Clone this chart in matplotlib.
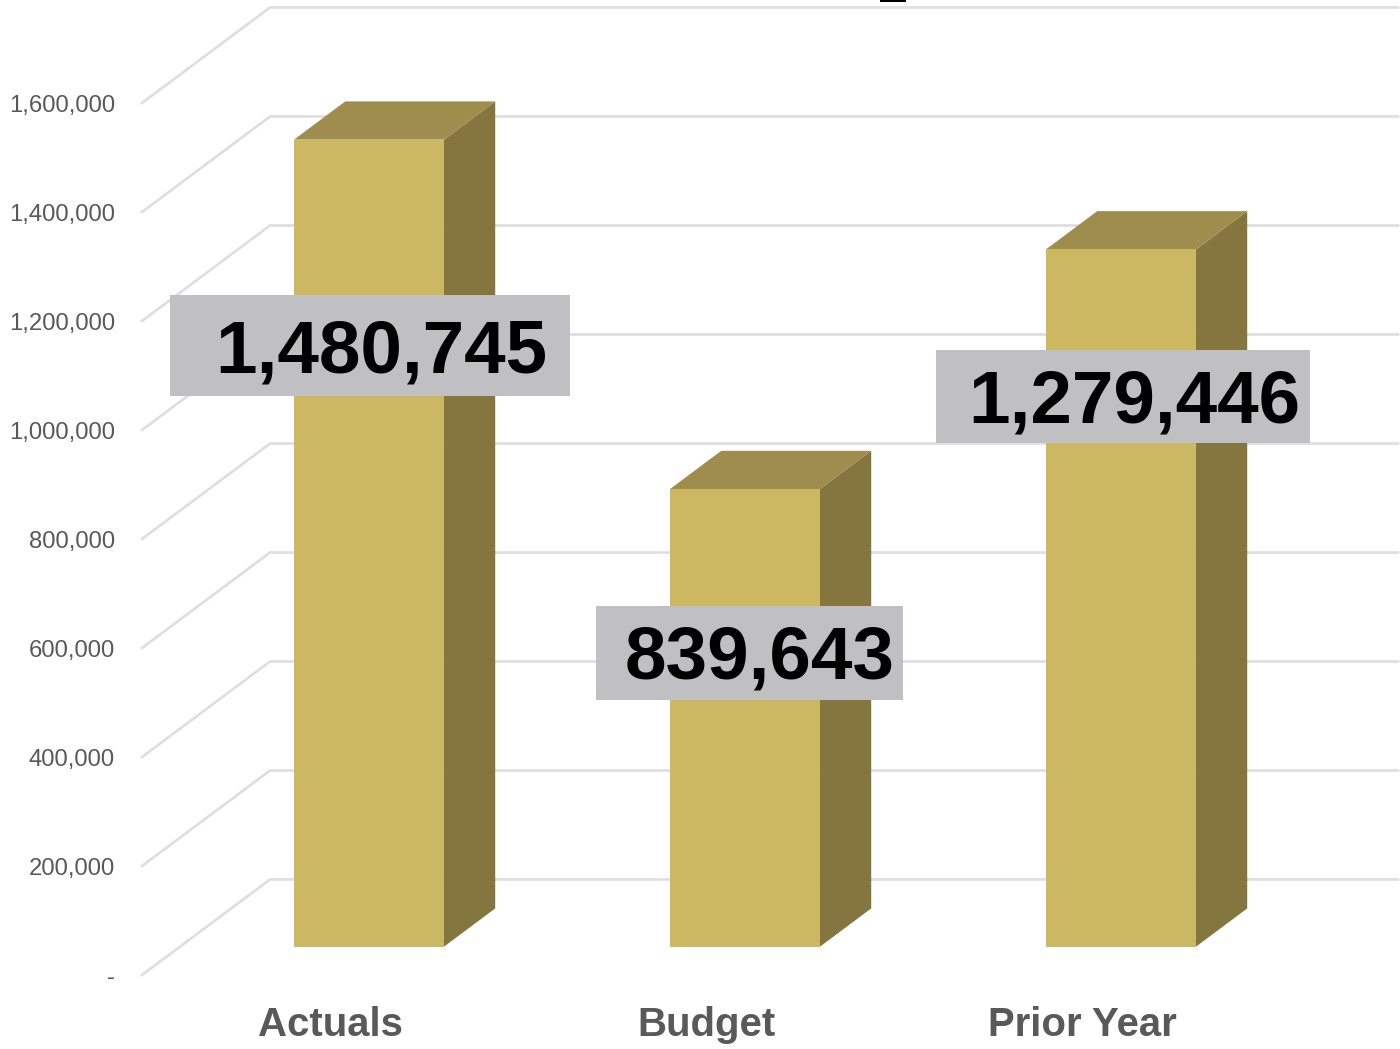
import matplotlib
matplotlib.use("Agg")
import matplotlib.pyplot as plt
from matplotlib.patches import Rectangle
from matplotlib.transforms import Affine2D, ScaledTranslation

# Chart data
categories = ["Actuals", "Budget", "Prior Year"]
values = [1480745, 839643, 1279446]
value_labels = ["1,480,745", "839,643", "1,279,446"]
tick_values = [0, 200000, 400000, 600000, 800000, 1000000, 1200000, 1400000, 1600000]
tick_labels = ["-", "200,000", "400,000", "600,000", "800,000",
               "1,000,000", "1,200,000", "1,400,000", "1,600,000"]

# Canvas layout, in pixels measured from the top-left corner
W, H = 1400, 1049
FRONT_LEFT, FRONT_RIGHT = 142, 1270
FRONT_TOP, FRONT_BOTTOM = 103, 975
DEPTH_DX, DEPTH_DY = 128, 95.5        # screen offset of the full floor depth
BAR_DEPTH_NEAR, BAR_DEPTH_FAR = 0.297, 0.697
BAR_WIDTH_PX = 150
BAR_SHIFT_PX = 1

# Value-label boxes (left, top, right, bottom) and text centre
label_boxes = [(170, 295, 570, 396), (596, 606, 903, 700), (936, 350, 1310, 443)]
label_centres = [(381.5, 345), (759.5, 652), (1134.5, 395)]

COL_FRONT = "#CDB862"
COL_TOP = "#9E8D4D"
COL_SIDE = "#84763E"
COL_GRID = "#DEDEDE"
COL_BOX = "#C0C0C2"
COL_TICK = "#595959"
FONT = "Liberation Sans"

fig = plt.figure(figsize=(W / 100, H / 100), dpi=100, facecolor="white")
ax = fig.add_axes([FRONT_LEFT / W, (H - FRONT_BOTTOM) / H,
                   (FRONT_RIGHT - FRONT_LEFT) / W, (FRONT_BOTTOM - FRONT_TOP) / H])
ax.set_xlim(-0.5, 2.5)
ax.set_ylim(0, 1600000)
ax.set_facecolor("none")
for spine in ax.spines.values():
    spine.set_visible(False)

cat_per_px = 3 / (FRONT_RIGHT - FRONT_LEFT)
val_per_px = 1600000 / (FRONT_BOTTOM - FRONT_TOP)


def project(x, v, depth):
    """Oblique projection of (category, value, depth) onto the axes plane."""
    return x + depth * DEPTH_DX * cat_per_px, v + depth * DEPTH_DY * val_per_px


def face(points, color):
    xs, ys = zip(*[project(*p) for p in points])
    ax.fill(xs, ys, facecolor=color, edgecolor="none", linewidth=0,
            clip_on=False, zorder=3)


# Gridlines run along the side wall, then across the back wall
for v in tick_values:
    xs, ys = zip(project(-0.5, v, 0), project(-0.5, v, 1), project(2.5, v, 1))
    ax.plot(xs, ys, color=COL_GRID, lw=1.9, clip_on=False, zorder=1,
            solid_joinstyle="miter")

# Prisms for the three bars
half = BAR_WIDTH_PX * cat_per_px / 2
shift = BAR_SHIFT_PX * cat_per_px
near, far = BAR_DEPTH_NEAR, BAR_DEPTH_FAR
for i, v in enumerate(values):
    l, r = i + shift - half, i + shift + half
    face([(r, 0, near), (r, 0, far), (r, v, far), (r, v, near)], COL_SIDE)
    face([(l, v, near), (r, v, near), (r, v, far), (l, v, far)], COL_TOP)
    face([(l, 0, near), (r, 0, near), (r, v, near), (l, v, near)], COL_FRONT)

ax.set_xticks(range(len(categories)), categories)
ax.set_yticks(tick_values, tick_labels)
ax.tick_params(axis="y", length=0, pad=19.4, labelsize=17.2, labelcolor=COL_TICK)
ax.tick_params(axis="x", length=0, pad=22.0, labelsize=28.9, labelcolor=COL_TICK)
nudge_down = ScaledTranslation(0, -0.7 / 100, fig.dpi_scale_trans)
for t in ax.get_yticklabels():
    t.set_fontfamily(FONT)
    t.set_transform(t.get_transform() + nudge_down)
for t in ax.get_xticklabels():
    t.set_fontfamily(FONT)
    t.set_fontweight("bold")

# Value labels sit in grey boxes placed in pixel space
px = Affine2D().scale(1, -1).translate(0, H)
for text, (x0, y0, x1, y1), (cx, cy) in zip(value_labels, label_boxes, label_centres):
    fig.add_artist(Rectangle((x0, y0), x1 - x0, y1 - y0, transform=px,
                             facecolor=COL_BOX, edgecolor="none", zorder=5))
    fig.text(cx, cy, text, transform=px, ha="center", va="center_baseline",
             fontsize=53.7, fontweight="bold", family=FONT, color="black", zorder=6)

# Short dark stroke on the top edge of the canvas
fig.add_artist(Rectangle((880, 0), 26, 2, transform=px, facecolor="black",
                         edgecolor="none", zorder=5))

fig.savefig("out.png", dpi=100)
